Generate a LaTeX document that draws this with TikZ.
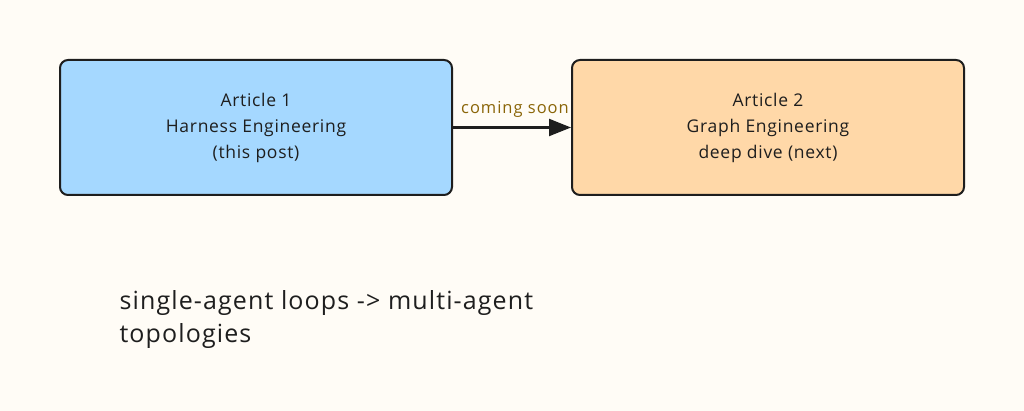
\documentclass[tikz,border=0pt]{standalone}
\usepackage{fontspec}
\setmainfont{Open Sans}
\usetikzlibrary{arrows.meta}
\definecolor{bg}{HTML}{FFFCF6}
\definecolor{ink}{HTML}{1E1E1E}
\definecolor{bluefill}{HTML}{A5D8FF}
\definecolor{orangefill}{HTML}{FFD8A8}
\definecolor{labelcol}{HTML}{8A6508}
\tikzset{
  card/.style={draw=ink, line width=2pt, rounded corners=8pt, minimum width=392pt, minimum height=135pt, align=center, font=\fontsize{17.5}{25}\selectfont\addfontfeature{LetterSpace=4}, text=ink},
  conn/.style={draw=ink, line width=2.2pt, -{Triangle[length=22pt,width=17pt]}},
  lbl/.style={text=labelcol, font=\fontsize{16.5}{20}\selectfont\addfontfeature{LetterSpace=6}},
  note/.style={text=ink, align=left, font=\fontsize{25}{33}\selectfont\addfontfeature{LetterSpace=4.5}}
}
\begin{document}
\begin{tikzpicture}[x=1pt,y=-1pt]
\fill[bg] (0,0) rectangle (1024,411);
\useasboundingbox (0,0) rectangle (1024,411);
\node[card, fill=bluefill] (a1) at (256,127.5) {\raisebox{-1.5pt}{\begin{tabular}{@{}c@{}}Article 1\\[1pt]Harness Engineering\\[1pt](this post)\end{tabular}}};
\node[card, fill=orangefill] (a2) at (768,127.5) {\raisebox{-1.5pt}{\begin{tabular}{@{}c@{}}Article 2\\[1pt]Graph Engineering\\[1pt]deep dive (next)\end{tabular}}};
\draw[conn] (a1.east) -- (a2.west) node[lbl, midway, above=6pt, xshift=3pt] (lab) {coming soon};
\node[note, anchor=north west] (n) at (116,287) {single-agent loops -> multi-agent\\topologies};
\end{tikzpicture}
\end{document}
